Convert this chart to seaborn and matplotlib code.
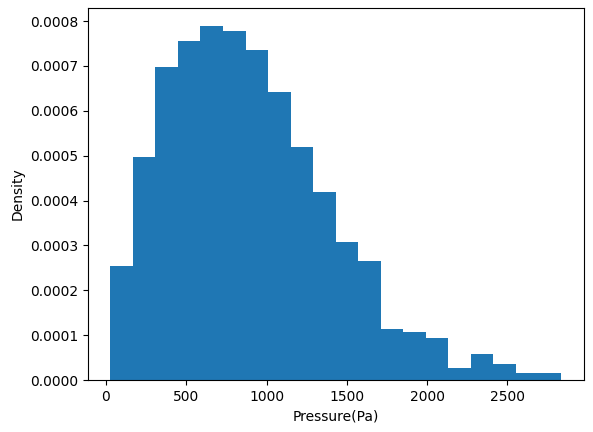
import numpy as np
import pandas as pd
import matplotlib
matplotlib.use("Agg")
import matplotlib.pyplot as plt
import seaborn as sns

bin_start = 27.0
bin_width = 140.3
densities = [0.000255, 0.000498, 0.000698, 0.000755, 0.000790, 0.000777, 0.000735,
             0.000642, 0.000520, 0.000420, 0.000307, 0.000265, 0.000113, 0.000107,
             0.000093, 0.000028, 0.000058, 0.000035, 0.000015, 0.000015]

n = len(densities)
edges = bin_start + bin_width * np.arange(n + 1)
centers = (edges[:-1] + edges[1:]) / 2
df = pd.DataFrame({"Pressure(Pa)": centers, "w": densities})

fig, ax = plt.subplots(figsize=(5.93, 4.32), dpi=100)
sns.histplot(data=df, x="Pressure(Pa)", weights="w", binwidth=bin_width,
             binrange=(edges[0], edges[-1]), stat="count",
             color="#1f77b4", alpha=1, linewidth=0, element="bars", ax=ax)
ax.set_ylabel("Density")
ax.set_xlabel("Pressure(Pa)")
fig.subplots_adjust(left=0.148, right=0.984, bottom=0.12, top=0.982)
fig.savefig("out.png", dpi=100)
